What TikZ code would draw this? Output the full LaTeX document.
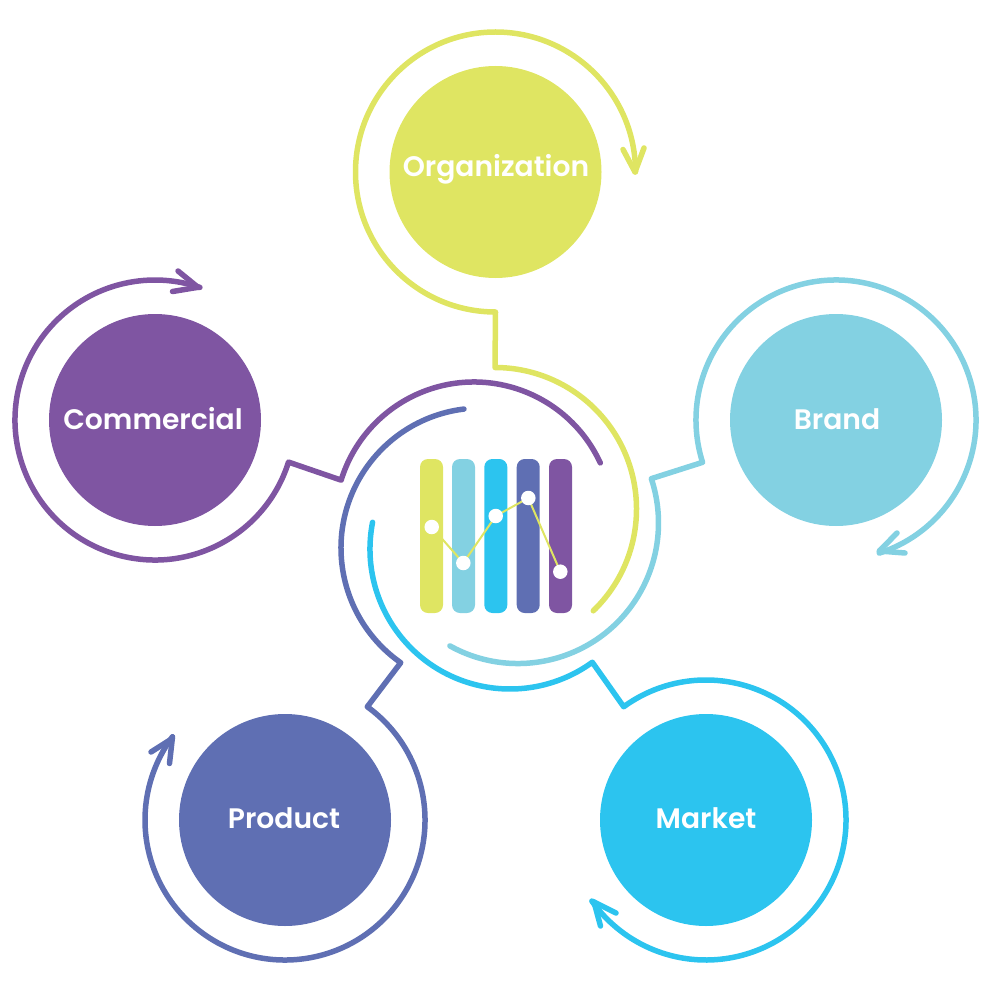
\documentclass[tikz,border=0pt]{standalone}
\usepackage{fontspec}
\setmainfont{Poppins}[UprightFont=* SemiBold]
\definecolor{cyel}{HTML}{DFE562}
\definecolor{clbl}{HTML}{83D1E2}
\definecolor{ccya}{HTML}{2CC4EF}
\definecolor{cind}{HTML}{5F6FB3}
\definecolor{cpur}{HTML}{7F55A2}
\tikzset{
  disc/.style={circle,fill=#1,draw=none,minimum size=212pt,inner sep=0pt},
  lab/.style={text=white,font=\fontsize{28.2}{31}\selectfont},
  ringline/.style={draw=#1,line width=5.5pt,line cap=round,line join=round},
  barbar/.style={fill=#1,draw=none,rounded corners=8pt,minimum width=23pt,minimum height=154pt,inner sep=0pt},
  dot/.style={circle,fill=white,draw=none,minimum size=14.5pt,inner sep=0pt}
}
% colour, hub, hub r, hub start, hub end, disc, ring start, ring end, tip
\newcommand{\ringway}[9]{%
  \draw[ringline=#1] (#2) ++(#4:#3pt) arc[start angle=#4,end angle=#5,radius=#3pt]
    -- ($(#6)+(#7:140pt)$) arc[start angle=#7,end angle=#8,radius=140pt] -- (#9);}
\usetikzlibrary{calc}
\begin{document}
\begin{tikzpicture}[x=1pt,y=-1pt]
\useasboundingbox (0,0) rectangle (1000,1000);
\node[disc=cyel] (org) at (495.5,172) {};
\node[disc=clbl] (bra) at (836,420) {};
\node[disc=cpur] (com) at (155,420) {};
\node[disc=cind] (pro) at (285,820) {};
\node[disc=ccya] (mar) at (706,820) {};
\node[lab] (orgt) at (496,169) {Organization};
\node[lab] (brat) at (837,419) {Brand};
\node[lab] (comt) at (153,419) {Commercial};
\node[lab] (prot) at (284,818) {Product};
\node[lab] (mart) at (706,818) {Market};
\coordinate (hy) at (495,509);
\coordinate (hl) at (518,523);
\coordinate (hc) at (510,549);
\coordinate (hi) at (481,548);
\coordinate (hp) at (474,521);
\coordinate (ty) at (635,172);
\coordinate (ya) at (623,149.5);
\coordinate (yb) at (644,148);
\coordinate (tl) at (879.3,551);
\coordinate (la) at (897,533);
\coordinate (lb) at (905,553);
\coordinate (tc) at (594,902);
\coordinate (ca) at (616,913);
\coordinate (cb) at (600.5,926);
\coordinate (ti) at (172.3,738.5);
\coordinate (ia) at (151,752);
\coordinate (ib) at (169.5,763.5);
\coordinate (tp) at (198,287.3);
\coordinate (pa) at (178,271);
\coordinate (pb) at (172.5,291.5);
\ringway{cyel}{hy}{141.5}{-46}{90}{org.center}{270}{0}{ty}
\draw[ringline=cyel] (ya) -- (ty) -- (yb);
\ringway{clbl}{hl}{140.5}{-119}{18.4}{bra.center}{197.6}{-72}{tl}
\draw[ringline=clbl] (la) -- (tl) -- (lb);
\ringway{ccya}{hc}{140}{169}{306}{mar.center}{126}{-144.6}{tc}
\draw[ringline=ccya] (ca) -- (tc) -- (cb);
\ringway{cind}{hi}{140}{97}{235}{pro.center}{54}{-216.5}{ti}
\draw[ringline=cind] (ia) -- (ti) -- (ib);
\ringway{cpur}{hp}{139}{24.7}{162.9}{com.center}{-17.5}{-288.7}{tp}
\draw[ringline=cpur] (pa) -- (tp) -- (pb);
\node[barbar=cyel] (b1) at (431.5,536) {};
\node[barbar=clbl] (b2) at (463.5,536) {};
\node[barbar=ccya] (b3) at (495.8,536) {};
\node[barbar=cind] (b4) at (528.2,536) {};
\node[barbar=cpur] (b5) at (560.5,536) {};
\coordinate (p1) at (431.7,527);
\coordinate (p2) at (463.3,563);
\coordinate (p3) at (495.7,516);
\coordinate (p4) at (528.3,498);
\coordinate (p5) at (560.3,571.7);
\draw[cyel,line width=2pt] (p1) -- (p2) -- (p3) -- (p4) -- (p5);
\node[dot] (d1) at (p1) {};
\node[dot] (d2) at (p2) {};
\node[dot] (d3) at (p3) {};
\node[dot] (d4) at (p4) {};
\node[dot] (d5) at (p5) {};
\end{tikzpicture}
\end{document}
